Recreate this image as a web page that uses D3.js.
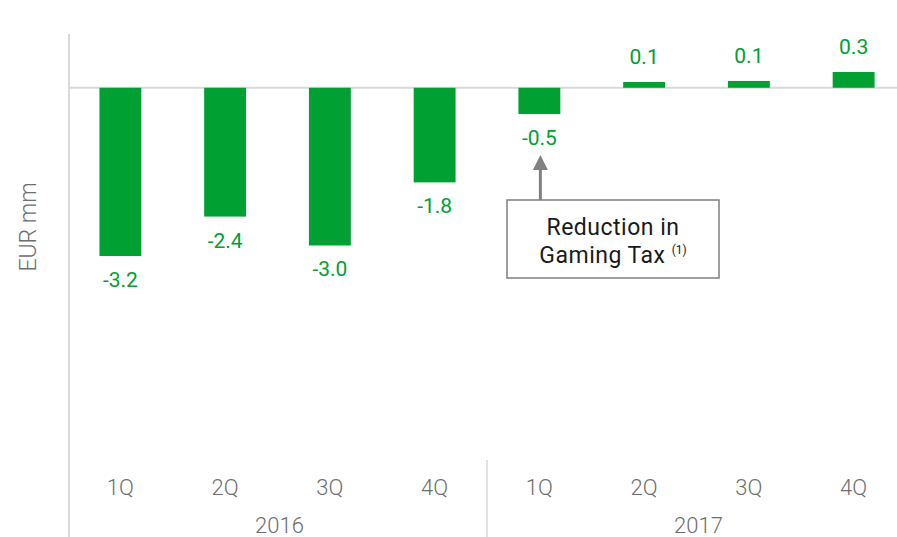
<!DOCTYPE html>
<html><head><meta charset="utf-8">
<script src="https://cdn.jsdelivr.net/npm/d3@7"></script>
<style>body{margin:0;background:#fff}svg{display:block}text{font-family:Roboto,"Open Sans",sans-serif}</style>
</head><body>
<svg id="c" width="897" height="537"></svg>
<script>
const quarters = ["1Q","2Q","3Q","4Q","1Q","2Q","3Q","4Q"];
const years = ["2016","2017"];
const values = [-3.2,-2.45,-3.0,-1.8,-0.5,0.11,0.13,0.3];
const labels = ["-3.2","-2.4","-3.0","-1.8","-0.5","0.1","0.1","0.3"];

const svg = d3.select("#c");
const green = "#00a032";
const grey = "#6e6e6e";
const x = d3.scaleBand().domain(d3.range(values.length)).range([68,906]).paddingInner(0.6).paddingOuter(0.3);
const y = d3.scaleLinear().domain([-3.2,0.3]).range([256,72]);

svg.append("line").attr("x1",69).attr("x2",897).attr("y1",y(0)).attr("y2",y(0)).attr("stroke","#d9d9d9").attr("stroke-width",2);
svg.append("line").attr("x1",69).attr("x2",69).attr("y1",34).attr("y2",537).attr("stroke","#d9d9d9").attr("stroke-width",2);
const sep = (x(3)+x.bandwidth()+x(4))/2;
svg.append("line").attr("x1",sep).attr("x2",sep).attr("y1",460).attr("y2",537).attr("stroke","#d9d9d9").attr("stroke-width",1.5);

svg.selectAll("rect.bar").data(values).join("rect").attr("class","bar")
  .attr("x",(d,i)=>x(i)).attr("width",x.bandwidth())
  .attr("y",d=>y(Math.max(0,d))).attr("height",d=>Math.abs(y(d)-y(0)))
  .attr("fill",green);

svg.selectAll("text.val").data(values).join("text").attr("class","val")
  .attr("x",(d,i)=>x(i)+x.bandwidth()/2)
  .attr("y",d=> d<0 ? y(d)+31 : y(d)-18)
  .attr("text-anchor","middle").attr("fill",green).attr("font-size",21)
  .text((d,i)=>labels[i]);

svg.selectAll("text.q").data(quarters).join("text").attr("class","q")
  .attr("x",(d,i)=>x(i)+x.bandwidth()/2).attr("y",495)
  .attr("text-anchor","middle").attr("fill",grey).attr("font-size",22).attr("font-weight",300)
  .text(d=>d);

years.forEach((yr,k)=>{
  const cx = (x(k*4)+x(k*4+3)+x.bandwidth())/2;
  svg.append("text").attr("x",cx+2).attr("y",533).attr("text-anchor","middle")
    .attr("fill",grey).attr("font-size",22).attr("font-weight",300).text(yr);
});

svg.append("text").attr("transform","translate(36,227) rotate(-90)").attr("text-anchor","middle")
  .attr("fill",grey).attr("font-size",23).attr("font-weight",300).text("EUR mm");

const ax = x(4)+x.bandwidth()/2 + 1;
svg.append("line").attr("x1",ax).attr("x2",ax).attr("y1",200).attr("y2",169).attr("stroke","#808080").attr("stroke-width",3);
svg.append("path").attr("d",`M${ax},155 L${ax-7.5},170 L${ax+7.5},170 Z`).attr("fill","#808080");
svg.append("rect").attr("x",507).attr("y",200).attr("width",212).attr("height",78).attr("fill","#fff").attr("stroke","#7f7f7f").attr("stroke-width",1.5);
svg.append("text").attr("x",613).attr("y",235).attr("text-anchor","middle").attr("fill","#1a1a1a").attr("font-size",23).attr("letter-spacing",0.5).text("Reduction in");
const t2 = svg.append("text").attr("x",613).attr("y",263).attr("text-anchor","middle").attr("fill","#1a1a1a").attr("font-size",23).attr("letter-spacing",0.5);
t2.append("tspan").text("Gaming Tax ");
t2.append("tspan").attr("font-size",12).attr("letter-spacing",0).attr("dy",-9).text("(1)");
</script>
</body></html>
